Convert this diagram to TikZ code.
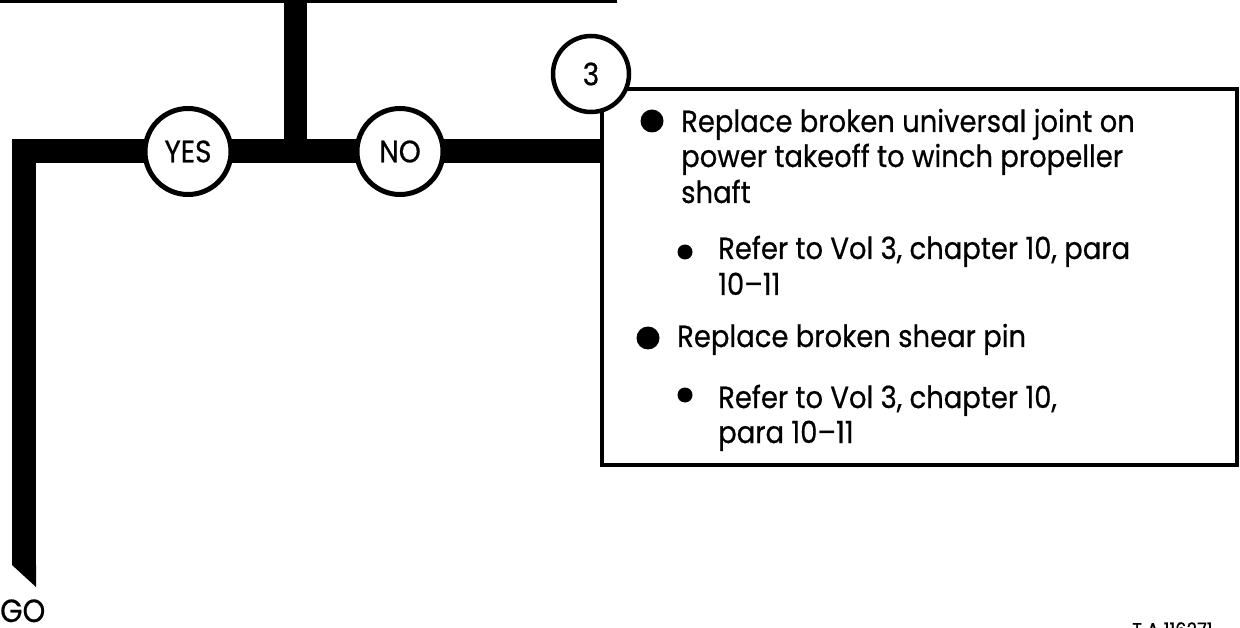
\documentclass[tikz,border=0pt]{standalone}
\usepackage{fontspec}
\setmainfont{Poppins}[FakeStretch=0.9, FakeBold=0.6]
\begin{document}
\begin{tikzpicture}[x=1pt,y=-1pt,
  bar/.style={line width=24pt, line join=miter},
  stembar/.style={line width=23pt},
  ring/.style={circle, draw, line width=5pt, fill=white, minimum size=86pt, inner sep=0pt, font=\fontsize{31}{32}\selectfont},
  smallring/.style={ring, minimum size=76pt, line width=4.5pt},
  dot/.style={circle, fill, inner sep=0pt, minimum size=23pt},
  subdot/.style={circle, fill, inner sep=0pt, minimum size=15pt},
  txt/.style={anchor=base west, inner sep=0pt, font=\fontsize{30.5}{34}\selectfont},
  stepbox/.style={draw, line width=4pt, inner sep=0pt, minimum width=635pt, minimum height=376pt, anchor=north west},
]
\useasboundingbox (0,0) rectangle (1240,628);

% top line
\coordinate (topL) at (0,1.5);
\coordinate (topR) at (617,1.5);
\draw[line width=3pt] (topL) -- (topR);

% box
\node[stepbox] (box) at (600,87) {};

% thick flow bars
\coordinate (corner) at (24,151.5);
\coordinate (goend) at (24,565);
\coordinate (stem) at (295.5,0);
\coordinate (joint) at (295.5,151.5);
\draw[bar] (goend) -- (corner) -- (corner -| box.west);
\fill (12,565) -- (36,565) -- (36,587) -- cycle;
\draw[stembar] (stem) -- (joint);

% circles
\node[ring] (yes) at (188,151.5) {YES};
\node[ring] (no) at (400,151.5) {NO};
\node[smallring] (c3) at (591,74) {3};

% bullets
\node[dot] (b1) at (652,121) {};
\node[subdot] (s1) at (685,252) {};
\node[dot] (b2) at (648,338) {};
\node[subdot] (s2) at (685,395) {};

% text lines
\node[txt] (l1) at (681,132) {Replace broken universal joint on};
\node[txt] (l2) at (681,167) {power takeoff to winch propeller};
\node[txt] (l3) at (681,203) {shaft};
\node[txt] (l4) at (718,259) {Refer to Vol 3, chapter 10, para};
\node[txt] (l5) at (718,295) {10--11};
\node[txt] (l6) at (677,347) {Replace broken shear pin};
\node[txt] (l7) at (718,408) {Refer to Vol 3, chapter 10,};
\node[txt] (l8) at (718,443) {para 10--11};

% labels
\node[txt, font=\fontsize{32}{34}\selectfont] (go) at (0,622) {GO};
\node[anchor=base west, inner sep=0pt, font=\fontsize{20}{20}\selectfont] (ta) at (1132,637) {T A 116271};
\end{tikzpicture}
\end{document}
